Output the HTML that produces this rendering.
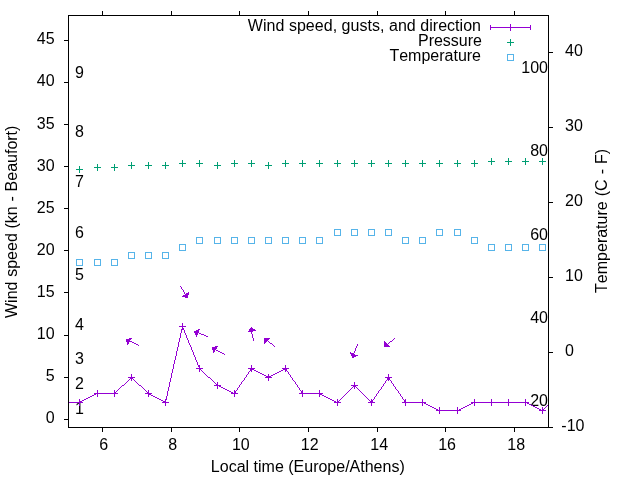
<!DOCTYPE html>
<html><head><meta charset="utf-8"><title>Wind plot</title>
<style>
html,body{margin:0;padding:0;background:#fff;}
body{width:640px;height:480px;overflow:hidden;}
svg{display:block;will-change:transform;}
text{font-family:"Liberation Sans",sans-serif;font-size:16px;fill:#000;white-space:pre;font-kerning:none;}
</style></head><body>
<svg width="640" height="480" viewBox="0 0 640 480">
<rect x="0" y="0" width="640" height="480" fill="#fff"/>
<g stroke="#000" stroke-width="1" fill="none" shape-rendering="crispEdges">
<path d="M102.5 427.5V432.0M102.5 15.5V11.0"/>
<path d="M171.5 427.5V432.0M171.5 15.5V11.0"/>
<path d="M239.5 427.5V432.0M239.5 15.5V11.0"/>
<path d="M308.5 427.5V432.0M308.5 15.5V11.0"/>
<path d="M377.5 427.5V432.0M377.5 15.5V11.0"/>
<path d="M445.5 427.5V432.0M445.5 15.5V11.0"/>
<path d="M514.5 427.5V432.0M514.5 15.5V11.0"/>
<path d="M68.5 419.5H64.0"/>
<path d="M68.5 377.5H64.0"/>
<path d="M68.5 335.5H64.0"/>
<path d="M68.5 292.5H64.0"/>
<path d="M68.5 250.5H64.0"/>
<path d="M68.5 208.5H64.0"/>
<path d="M68.5 166.5H64.0"/>
<path d="M68.5 124.5H64.0"/>
<path d="M68.5 82.5H64.0"/>
<path d="M68.5 40.5H64.0"/>
<path d="M548.5 427.5H553.0"/>
<path d="M548.5 352.5H553.0"/>
<path d="M548.5 277.5H553.0"/>
<path d="M548.5 202.5H553.0"/>
<path d="M548.5 127.5H553.0"/>
<path d="M548.5 52.5H553.0"/>
</g>
<text x="101.49" y="450" text-anchor="middle" xml:space="preserve"> 6</text>
<text x="170.36" y="450" text-anchor="middle" xml:space="preserve"> 8</text>
<text x="238.63" y="450" text-anchor="middle" xml:space="preserve"> 10</text>
<text x="307.50" y="450" text-anchor="middle" xml:space="preserve"> 12</text>
<text x="376.97" y="450" text-anchor="middle" xml:space="preserve"> 14</text>
<text x="444.84" y="450" text-anchor="middle" xml:space="preserve"> 16</text>
<text x="513.91" y="450" text-anchor="middle" xml:space="preserve"> 18</text>
<text x="54.6" y="422.79" text-anchor="end">0</text>
<text x="54.6" y="380.75" text-anchor="end">5</text>
<text x="54.6" y="338.71" text-anchor="end">10</text>
<text x="54.6" y="296.67" text-anchor="end">15</text>
<text x="54.6" y="254.63" text-anchor="end">20</text>
<text x="54.6" y="212.59" text-anchor="end">25</text>
<text x="54.6" y="170.55" text-anchor="end">30</text>
<text x="54.6" y="128.51" text-anchor="end">35</text>
<text x="54.6" y="86.47" text-anchor="end">40</text>
<text x="54.6" y="44.42" text-anchor="end">45</text>
<text x="561.3000000000001" y="430.70" text-anchor="start" xml:space="preserve">-10</text>
<text x="560.6" y="355.79" text-anchor="start" xml:space="preserve"> 0</text>
<text x="560.6" y="280.88" text-anchor="start" xml:space="preserve"> 10</text>
<text x="560.6" y="205.97" text-anchor="start" xml:space="preserve"> 20</text>
<text x="560.6" y="131.06" text-anchor="start" xml:space="preserve"> 30</text>
<text x="560.6" y="56.15" text-anchor="start" xml:space="preserve"> 40</text>
<text x="75" y="414.38">1</text>
<text x="75" y="389.16">2</text>
<text x="75" y="363.93">3</text>
<text x="75" y="330.30">4</text>
<text x="75" y="279.85">5</text>
<text x="75" y="237.81">6</text>
<text x="75" y="187.36">7</text>
<text x="75" y="136.91">8</text>
<text x="75" y="78.06">9</text>
<text x="548" y="406" text-anchor="end">20</text>
<text x="548" y="323" text-anchor="end">40</text>
<text x="548" y="240" text-anchor="end">60</text>
<text x="548" y="156" text-anchor="end">80</text>
<text x="548" y="73" text-anchor="end">100</text>
<text x="307.8" y="472" text-anchor="middle">Local time (Europe/Athens)</text>
<text transform="translate(17,221.8) rotate(-90)" text-anchor="middle" word-spacing="0.3">Wind speed (kn - Beaufort)</text>
<text transform="translate(606.5,220.9) rotate(-90)" text-anchor="middle" word-spacing="0.6">Temperature (C - F)</text>
<text x="481" y="31" text-anchor="end" textLength="233.2">Wind speed, gusts, and direction</text>
<text x="482" y="46" text-anchor="end">Pressure</text>
<text x="481" y="61" text-anchor="end">Temperature</text>
<path d="M490 27.5H531M490.5 25V30M530.5 25V30" stroke="#9400d3" stroke-width="1" fill="none" shape-rendering="crispEdges"/>
<path d="M507.0 27.5H514.0M510.5 24.0V31.0" stroke="#9400d3" stroke-width="1" fill="none" shape-rendering="crispEdges"/>
<path d="M507.0 42.5H514.0M510.5 39.0V46.0" stroke="#009e73" stroke-width="1" fill="none" shape-rendering="crispEdges"/>
<rect x="507.5" y="54.5" width="6" height="6" stroke="#56b4e9" stroke-width="1" fill="none" shape-rendering="crispEdges"/>
<clipPath id="c"><rect x="68.5" y="15.5" width="480.0" height="412.0"/></clipPath>
<path d="M182 326h1v1h-1zM182 327h1v1h-1zM182 328h2v1h-2zM181 329h1v1h-1zM183 329h1v1h-1zM181 330h1v1h-1zM184 330h1v1h-1zM181 331h1v1h-1zM184 331h1v1h-1zM181 332h1v1h-1zM184 332h1v1h-1zM180 333h1v1h-1zM185 333h1v1h-1zM180 334h1v1h-1zM185 334h1v1h-1zM180 335h1v1h-1zM186 335h1v1h-1zM180 336h1v1h-1zM186 336h1v1h-1zM180 337h1v1h-1zM186 337h1v1h-1zM179 338h1v1h-1zM187 338h1v1h-1zM179 339h1v1h-1zM187 339h1v1h-1zM179 340h1v1h-1zM188 340h1v1h-1zM179 341h1v1h-1zM188 341h1v1h-1zM178 342h1v1h-1zM188 342h1v1h-1zM178 343h1v1h-1zM189 343h1v1h-1zM178 344h1v1h-1zM189 344h1v1h-1zM178 345h1v1h-1zM190 345h1v1h-1zM178 346h1v1h-1zM190 346h1v1h-1zM177 347h1v1h-1zM191 347h1v1h-1zM177 348h1v1h-1zM191 348h1v1h-1zM177 349h1v1h-1zM191 349h1v1h-1zM177 350h1v1h-1zM192 350h1v1h-1zM176 351h1v1h-1zM192 351h1v1h-1zM176 352h1v1h-1zM193 352h1v1h-1zM176 353h1v1h-1zM193 353h1v1h-1zM176 354h1v1h-1zM193 354h1v1h-1zM176 355h1v1h-1zM194 355h1v1h-1zM175 356h1v1h-1zM194 356h1v1h-1zM175 357h1v1h-1zM195 357h1v1h-1zM175 358h1v1h-1zM195 358h1v1h-1zM175 359h1v1h-1zM195 359h1v1h-1zM174 360h1v1h-1zM196 360h1v1h-1zM174 361h1v1h-1zM196 361h1v1h-1zM174 362h1v1h-1zM197 362h1v1h-1zM174 363h1v1h-1zM197 363h1v1h-1zM173 364h1v1h-1zM197 364h1v1h-1zM173 365h1v1h-1zM198 365h1v1h-1zM173 366h1v1h-1zM198 366h1v1h-1zM173 367h1v1h-1zM199 367h1v1h-1zM173 368h1v1h-1zM199 368h1v1h-1zM251 368h1v1h-1zM285 368h1v1h-1zM172 369h1v1h-1zM200 369h1v1h-1zM250 369h1v1h-1zM252 369h2v1h-2zM283 369h2v1h-2zM286 369h1v1h-1zM172 370h1v1h-1zM201 370h1v1h-1zM250 370h1v1h-1zM254 370h2v1h-2zM281 370h2v1h-2zM286 370h1v1h-1zM172 371h1v1h-1zM202 371h1v1h-1zM249 371h1v1h-1zM256 371h2v1h-2zM279 371h2v1h-2zM287 371h1v1h-1zM172 372h1v1h-1zM203 372h1v1h-1zM248 372h1v1h-1zM258 372h2v1h-2zM277 372h2v1h-2zM288 372h1v1h-1zM171 373h1v1h-1zM204 373h1v1h-1zM248 373h1v1h-1zM260 373h2v1h-2zM275 373h2v1h-2zM288 373h1v1h-1zM171 374h1v1h-1zM205 374h1v1h-1zM247 374h1v1h-1zM262 374h2v1h-2zM273 374h2v1h-2zM289 374h1v1h-1zM171 375h1v1h-1zM206 375h1v1h-1zM246 375h1v1h-1zM264 375h2v1h-2zM271 375h2v1h-2zM290 375h1v1h-1zM171 376h1v1h-1zM207 376h1v1h-1zM246 376h1v1h-1zM266 376h2v1h-2zM269 376h2v1h-2zM290 376h1v1h-1zM131 377h1v1h-1zM171 377h1v1h-1zM208 377h2v1h-2zM245 377h1v1h-1zM268 377h1v1h-1zM291 377h1v1h-1zM388 377h1v1h-1zM130 378h1v1h-1zM132 378h1v1h-1zM170 378h1v1h-1zM210 378h1v1h-1zM244 378h1v1h-1zM292 378h1v1h-1zM387 378h1v1h-1zM389 378h1v1h-1zM129 379h1v1h-1zM133 379h1v1h-1zM170 379h1v1h-1zM211 379h1v1h-1zM244 379h1v1h-1zM292 379h1v1h-1zM387 379h1v1h-1zM389 379h1v1h-1zM128 380h1v1h-1zM134 380h1v1h-1zM170 380h1v1h-1zM212 380h1v1h-1zM243 380h1v1h-1zM293 380h1v1h-1zM386 380h1v1h-1zM390 380h1v1h-1zM127 381h1v1h-1zM135 381h1v1h-1zM170 381h1v1h-1zM213 381h1v1h-1zM242 381h1v1h-1zM294 381h1v1h-1zM385 381h1v1h-1zM391 381h1v1h-1zM126 382h1v1h-1zM136 382h1v1h-1zM169 382h1v1h-1zM214 382h1v1h-1zM241 382h1v1h-1zM295 382h1v1h-1zM385 382h1v1h-1zM391 382h1v1h-1zM125 383h1v1h-1zM137 383h1v1h-1zM169 383h1v1h-1zM215 383h1v1h-1zM241 383h1v1h-1zM295 383h1v1h-1zM384 383h1v1h-1zM392 383h1v1h-1zM124 384h1v1h-1zM138 384h1v1h-1zM169 384h1v1h-1zM216 384h1v1h-1zM240 384h1v1h-1zM296 384h1v1h-1zM383 384h1v1h-1zM393 384h1v1h-1zM122 385h2v1h-2zM139 385h2v1h-2zM169 385h1v1h-1zM217 385h2v1h-2zM239 385h1v1h-1zM297 385h1v1h-1zM354 385h1v1h-1zM383 385h1v1h-1zM393 385h1v1h-1zM121 386h1v1h-1zM141 386h1v1h-1zM169 386h1v1h-1zM219 386h2v1h-2zM239 386h1v1h-1zM297 386h1v1h-1zM353 386h1v1h-1zM355 386h1v1h-1zM382 386h1v1h-1zM394 386h1v1h-1zM120 387h1v1h-1zM142 387h1v1h-1zM168 387h1v1h-1zM221 387h2v1h-2zM238 387h1v1h-1zM298 387h1v1h-1zM352 387h1v1h-1zM356 387h1v1h-1zM381 387h1v1h-1zM395 387h1v1h-1zM119 388h1v1h-1zM143 388h1v1h-1zM168 388h1v1h-1zM223 388h2v1h-2zM237 388h1v1h-1zM299 388h1v1h-1zM351 388h1v1h-1zM357 388h1v1h-1zM381 388h1v1h-1zM395 388h1v1h-1zM118 389h1v1h-1zM144 389h1v1h-1zM168 389h1v1h-1zM225 389h2v1h-2zM237 389h1v1h-1zM299 389h1v1h-1zM350 389h1v1h-1zM358 389h1v1h-1zM380 389h1v1h-1zM396 389h1v1h-1zM117 390h1v1h-1zM145 390h1v1h-1zM168 390h1v1h-1zM227 390h2v1h-2zM236 390h1v1h-1zM300 390h1v1h-1zM349 390h1v1h-1zM359 390h1v1h-1zM379 390h1v1h-1zM397 390h1v1h-1zM116 391h1v1h-1zM146 391h1v1h-1zM167 391h1v1h-1zM229 391h2v1h-2zM235 391h1v1h-1zM301 391h1v1h-1zM348 391h1v1h-1zM360 391h1v1h-1zM378 391h1v1h-1zM398 391h1v1h-1zM115 392h1v1h-1zM147 392h1v1h-1zM167 392h1v1h-1zM231 392h2v1h-2zM235 392h1v1h-1zM301 392h1v1h-1zM347 392h1v1h-1zM361 392h1v1h-1zM378 392h1v1h-1zM398 392h1v1h-1zM96 393h19v1h-19zM148 393h1v1h-1zM167 393h1v1h-1zM233 393h2v1h-2zM302 393h18v1h-18zM346 393h1v1h-1zM362 393h1v1h-1zM377 393h1v1h-1zM399 393h1v1h-1zM94 394h2v1h-2zM149 394h2v1h-2zM167 394h1v1h-1zM320 394h2v1h-2zM345 394h1v1h-1zM363 394h1v1h-1zM376 394h1v1h-1zM400 394h1v1h-1zM92 395h2v1h-2zM151 395h2v1h-2zM167 395h1v1h-1zM322 395h2v1h-2zM344 395h1v1h-1zM364 395h1v1h-1zM376 395h1v1h-1zM400 395h1v1h-1zM90 396h2v1h-2zM153 396h2v1h-2zM166 396h1v1h-1zM324 396h2v1h-2zM343 396h1v1h-1zM365 396h1v1h-1zM375 396h1v1h-1zM401 396h1v1h-1zM88 397h2v1h-2zM155 397h2v1h-2zM166 397h1v1h-1zM326 397h2v1h-2zM342 397h1v1h-1zM366 397h1v1h-1zM374 397h1v1h-1zM402 397h1v1h-1zM86 398h2v1h-2zM157 398h2v1h-2zM166 398h1v1h-1zM328 398h2v1h-2zM341 398h1v1h-1zM367 398h1v1h-1zM374 398h1v1h-1zM402 398h1v1h-1zM84 399h2v1h-2zM159 399h2v1h-2zM166 399h1v1h-1zM330 399h2v1h-2zM340 399h1v1h-1zM368 399h1v1h-1zM373 399h1v1h-1zM403 399h1v1h-1zM82 400h2v1h-2zM161 400h2v1h-2zM165 400h1v1h-1zM332 400h2v1h-2zM339 400h1v1h-1zM369 400h1v1h-1zM372 400h1v1h-1zM404 400h1v1h-1zM80 401h2v1h-2zM163 401h3v1h-3zM334 401h2v1h-2zM338 401h1v1h-1zM370 401h1v1h-1zM372 401h1v1h-1zM404 401h1v1h-1zM68 402h12v1h-12zM165 402h1v1h-1zM336 402h2v1h-2zM371 402h1v1h-1zM405 402h19v1h-19zM473 402h54v1h-54zM424 403h2v1h-2zM471 403h2v1h-2zM527 403h2v1h-2zM426 404h2v1h-2zM469 404h2v1h-2zM529 404h2v1h-2zM548 404h1v1h-1zM428 405h2v1h-2zM467 405h2v1h-2zM531 405h2v1h-2zM547 405h1v1h-1zM430 406h2v1h-2zM465 406h2v1h-2zM533 406h2v1h-2zM546 406h1v1h-1zM432 407h2v1h-2zM463 407h2v1h-2zM535 407h2v1h-2zM545 407h1v1h-1zM434 408h2v1h-2zM461 408h2v1h-2zM537 408h2v1h-2zM544 408h1v1h-1zM436 409h2v1h-2zM459 409h2v1h-2zM539 409h2v1h-2zM543 409h1v1h-1zM438 410h21v1h-21zM541 410h2v1h-2z" fill="#9400d3" shape-rendering="crispEdges"/>
<path d="M76.0 402.5H83.0M79.5 399.0V406.0" stroke="#9400d3" stroke-width="1" fill="none" shape-rendering="crispEdges"/>
<path d="M94.0 393.5H101.0M97.5 390.0V397.0" stroke="#9400d3" stroke-width="1" fill="none" shape-rendering="crispEdges"/>
<path d="M111.0 393.5H118.0M114.5 390.0V397.0" stroke="#9400d3" stroke-width="1" fill="none" shape-rendering="crispEdges"/>
<path d="M128.0 377.5H135.0M131.5 374.0V381.0" stroke="#9400d3" stroke-width="1" fill="none" shape-rendering="crispEdges"/>
<path d="M145.0 393.5H152.0M148.5 390.0V397.0" stroke="#9400d3" stroke-width="1" fill="none" shape-rendering="crispEdges"/>
<path d="M162.0 402.5H169.0M165.5 399.0V406.0" stroke="#9400d3" stroke-width="1" fill="none" shape-rendering="crispEdges"/>
<path d="M179.0 326.5H186.0M182.5 323.0V330.0" stroke="#9400d3" stroke-width="1" fill="none" shape-rendering="crispEdges"/>
<path d="M196.0 368.5H203.0M199.5 365.0V372.0" stroke="#9400d3" stroke-width="1" fill="none" shape-rendering="crispEdges"/>
<path d="M214.0 385.5H221.0M217.5 382.0V389.0" stroke="#9400d3" stroke-width="1" fill="none" shape-rendering="crispEdges"/>
<path d="M231.0 393.5H238.0M234.5 390.0V397.0" stroke="#9400d3" stroke-width="1" fill="none" shape-rendering="crispEdges"/>
<path d="M248.0 368.5H255.0M251.5 365.0V372.0" stroke="#9400d3" stroke-width="1" fill="none" shape-rendering="crispEdges"/>
<path d="M265.0 377.5H272.0M268.5 374.0V381.0" stroke="#9400d3" stroke-width="1" fill="none" shape-rendering="crispEdges"/>
<path d="M282.0 368.5H289.0M285.5 365.0V372.0" stroke="#9400d3" stroke-width="1" fill="none" shape-rendering="crispEdges"/>
<path d="M299.0 393.5H306.0M302.5 390.0V397.0" stroke="#9400d3" stroke-width="1" fill="none" shape-rendering="crispEdges"/>
<path d="M316.0 393.5H323.0M319.5 390.0V397.0" stroke="#9400d3" stroke-width="1" fill="none" shape-rendering="crispEdges"/>
<path d="M334.0 402.5H341.0M337.5 399.0V406.0" stroke="#9400d3" stroke-width="1" fill="none" shape-rendering="crispEdges"/>
<path d="M351.0 385.5H358.0M354.5 382.0V389.0" stroke="#9400d3" stroke-width="1" fill="none" shape-rendering="crispEdges"/>
<path d="M368.0 402.5H375.0M371.5 399.0V406.0" stroke="#9400d3" stroke-width="1" fill="none" shape-rendering="crispEdges"/>
<path d="M385.0 377.5H392.0M388.5 374.0V381.0" stroke="#9400d3" stroke-width="1" fill="none" shape-rendering="crispEdges"/>
<path d="M402.0 402.5H409.0M405.5 399.0V406.0" stroke="#9400d3" stroke-width="1" fill="none" shape-rendering="crispEdges"/>
<path d="M419.0 402.5H426.0M422.5 399.0V406.0" stroke="#9400d3" stroke-width="1" fill="none" shape-rendering="crispEdges"/>
<path d="M436.0 410.5H443.0M439.5 407.0V414.0" stroke="#9400d3" stroke-width="1" fill="none" shape-rendering="crispEdges"/>
<path d="M454.0 410.5H461.0M457.5 407.0V414.0" stroke="#9400d3" stroke-width="1" fill="none" shape-rendering="crispEdges"/>
<path d="M471.0 402.5H478.0M474.5 399.0V406.0" stroke="#9400d3" stroke-width="1" fill="none" shape-rendering="crispEdges"/>
<path d="M488.0 402.5H495.0M491.5 399.0V406.0" stroke="#9400d3" stroke-width="1" fill="none" shape-rendering="crispEdges"/>
<path d="M505.0 402.5H512.0M508.5 399.0V406.0" stroke="#9400d3" stroke-width="1" fill="none" shape-rendering="crispEdges"/>
<path d="M522.0 402.5H529.0M525.5 399.0V406.0" stroke="#9400d3" stroke-width="1" fill="none" shape-rendering="crispEdges"/>
<path d="M539.0 410.5H546.0M542.5 407.0V414.0" stroke="#9400d3" stroke-width="1" fill="none" shape-rendering="crispEdges"/>
<path d="M76.0 169.5H83.0M79.5 166.0V173.0" stroke="#009e73" stroke-width="1" fill="none" shape-rendering="crispEdges"/>
<path d="M94.0 167.5H101.0M97.5 164.0V171.0" stroke="#009e73" stroke-width="1" fill="none" shape-rendering="crispEdges"/>
<path d="M111.0 167.5H118.0M114.5 164.0V171.0" stroke="#009e73" stroke-width="1" fill="none" shape-rendering="crispEdges"/>
<path d="M128.0 165.5H135.0M131.5 162.0V169.0" stroke="#009e73" stroke-width="1" fill="none" shape-rendering="crispEdges"/>
<path d="M145.0 165.5H152.0M148.5 162.0V169.0" stroke="#009e73" stroke-width="1" fill="none" shape-rendering="crispEdges"/>
<path d="M162.0 165.5H169.0M165.5 162.0V169.0" stroke="#009e73" stroke-width="1" fill="none" shape-rendering="crispEdges"/>
<path d="M179.0 163.5H186.0M182.5 160.0V167.0" stroke="#009e73" stroke-width="1" fill="none" shape-rendering="crispEdges"/>
<path d="M196.0 163.5H203.0M199.5 160.0V167.0" stroke="#009e73" stroke-width="1" fill="none" shape-rendering="crispEdges"/>
<path d="M214.0 165.5H221.0M217.5 162.0V169.0" stroke="#009e73" stroke-width="1" fill="none" shape-rendering="crispEdges"/>
<path d="M231.0 163.5H238.0M234.5 160.0V167.0" stroke="#009e73" stroke-width="1" fill="none" shape-rendering="crispEdges"/>
<path d="M248.0 163.5H255.0M251.5 160.0V167.0" stroke="#009e73" stroke-width="1" fill="none" shape-rendering="crispEdges"/>
<path d="M265.0 165.5H272.0M268.5 162.0V169.0" stroke="#009e73" stroke-width="1" fill="none" shape-rendering="crispEdges"/>
<path d="M282.0 163.5H289.0M285.5 160.0V167.0" stroke="#009e73" stroke-width="1" fill="none" shape-rendering="crispEdges"/>
<path d="M299.0 163.5H306.0M302.5 160.0V167.0" stroke="#009e73" stroke-width="1" fill="none" shape-rendering="crispEdges"/>
<path d="M316.0 163.5H323.0M319.5 160.0V167.0" stroke="#009e73" stroke-width="1" fill="none" shape-rendering="crispEdges"/>
<path d="M334.0 163.5H341.0M337.5 160.0V167.0" stroke="#009e73" stroke-width="1" fill="none" shape-rendering="crispEdges"/>
<path d="M351.0 163.5H358.0M354.5 160.0V167.0" stroke="#009e73" stroke-width="1" fill="none" shape-rendering="crispEdges"/>
<path d="M368.0 163.5H375.0M371.5 160.0V167.0" stroke="#009e73" stroke-width="1" fill="none" shape-rendering="crispEdges"/>
<path d="M385.0 163.5H392.0M388.5 160.0V167.0" stroke="#009e73" stroke-width="1" fill="none" shape-rendering="crispEdges"/>
<path d="M402.0 163.5H409.0M405.5 160.0V167.0" stroke="#009e73" stroke-width="1" fill="none" shape-rendering="crispEdges"/>
<path d="M419.0 163.5H426.0M422.5 160.0V167.0" stroke="#009e73" stroke-width="1" fill="none" shape-rendering="crispEdges"/>
<path d="M436.0 163.5H443.0M439.5 160.0V167.0" stroke="#009e73" stroke-width="1" fill="none" shape-rendering="crispEdges"/>
<path d="M454.0 163.5H461.0M457.5 160.0V167.0" stroke="#009e73" stroke-width="1" fill="none" shape-rendering="crispEdges"/>
<path d="M471.0 163.5H478.0M474.5 160.0V167.0" stroke="#009e73" stroke-width="1" fill="none" shape-rendering="crispEdges"/>
<path d="M488.0 161.5H495.0M491.5 158.0V165.0" stroke="#009e73" stroke-width="1" fill="none" shape-rendering="crispEdges"/>
<path d="M505.0 161.5H512.0M508.5 158.0V165.0" stroke="#009e73" stroke-width="1" fill="none" shape-rendering="crispEdges"/>
<path d="M522.0 161.5H529.0M525.5 158.0V165.0" stroke="#009e73" stroke-width="1" fill="none" shape-rendering="crispEdges"/>
<path d="M539.0 161.5H546.0M542.5 158.0V165.0" stroke="#009e73" stroke-width="1" fill="none" shape-rendering="crispEdges"/>
<rect x="76.5" y="259.5" width="6" height="6" stroke="#56b4e9" stroke-width="1" fill="none" shape-rendering="crispEdges"/>
<rect x="94.5" y="259.5" width="6" height="6" stroke="#56b4e9" stroke-width="1" fill="none" shape-rendering="crispEdges"/>
<rect x="111.5" y="259.5" width="6" height="6" stroke="#56b4e9" stroke-width="1" fill="none" shape-rendering="crispEdges"/>
<rect x="128.5" y="252.5" width="6" height="6" stroke="#56b4e9" stroke-width="1" fill="none" shape-rendering="crispEdges"/>
<rect x="145.5" y="252.5" width="6" height="6" stroke="#56b4e9" stroke-width="1" fill="none" shape-rendering="crispEdges"/>
<rect x="162.5" y="252.5" width="6" height="6" stroke="#56b4e9" stroke-width="1" fill="none" shape-rendering="crispEdges"/>
<rect x="179.5" y="244.5" width="6" height="6" stroke="#56b4e9" stroke-width="1" fill="none" shape-rendering="crispEdges"/>
<rect x="196.5" y="237.5" width="6" height="6" stroke="#56b4e9" stroke-width="1" fill="none" shape-rendering="crispEdges"/>
<rect x="214.5" y="237.5" width="6" height="6" stroke="#56b4e9" stroke-width="1" fill="none" shape-rendering="crispEdges"/>
<rect x="231.5" y="237.5" width="6" height="6" stroke="#56b4e9" stroke-width="1" fill="none" shape-rendering="crispEdges"/>
<rect x="248.5" y="237.5" width="6" height="6" stroke="#56b4e9" stroke-width="1" fill="none" shape-rendering="crispEdges"/>
<rect x="265.5" y="237.5" width="6" height="6" stroke="#56b4e9" stroke-width="1" fill="none" shape-rendering="crispEdges"/>
<rect x="282.5" y="237.5" width="6" height="6" stroke="#56b4e9" stroke-width="1" fill="none" shape-rendering="crispEdges"/>
<rect x="299.5" y="237.5" width="6" height="6" stroke="#56b4e9" stroke-width="1" fill="none" shape-rendering="crispEdges"/>
<rect x="316.5" y="237.5" width="6" height="6" stroke="#56b4e9" stroke-width="1" fill="none" shape-rendering="crispEdges"/>
<rect x="334.5" y="229.5" width="6" height="6" stroke="#56b4e9" stroke-width="1" fill="none" shape-rendering="crispEdges"/>
<rect x="351.5" y="229.5" width="6" height="6" stroke="#56b4e9" stroke-width="1" fill="none" shape-rendering="crispEdges"/>
<rect x="368.5" y="229.5" width="6" height="6" stroke="#56b4e9" stroke-width="1" fill="none" shape-rendering="crispEdges"/>
<rect x="385.5" y="229.5" width="6" height="6" stroke="#56b4e9" stroke-width="1" fill="none" shape-rendering="crispEdges"/>
<rect x="402.5" y="237.5" width="6" height="6" stroke="#56b4e9" stroke-width="1" fill="none" shape-rendering="crispEdges"/>
<rect x="419.5" y="237.5" width="6" height="6" stroke="#56b4e9" stroke-width="1" fill="none" shape-rendering="crispEdges"/>
<rect x="436.5" y="229.5" width="6" height="6" stroke="#56b4e9" stroke-width="1" fill="none" shape-rendering="crispEdges"/>
<rect x="454.5" y="229.5" width="6" height="6" stroke="#56b4e9" stroke-width="1" fill="none" shape-rendering="crispEdges"/>
<rect x="471.5" y="237.5" width="6" height="6" stroke="#56b4e9" stroke-width="1" fill="none" shape-rendering="crispEdges"/>
<rect x="488.5" y="244.5" width="6" height="6" stroke="#56b4e9" stroke-width="1" fill="none" shape-rendering="crispEdges"/>
<rect x="505.5" y="244.5" width="6" height="6" stroke="#56b4e9" stroke-width="1" fill="none" shape-rendering="crispEdges"/>
<rect x="522.5" y="244.5" width="6" height="6" stroke="#56b4e9" stroke-width="1" fill="none" shape-rendering="crispEdges"/>
<rect x="539.5" y="244.5" width="6" height="6" stroke="#56b4e9" stroke-width="1" fill="none" shape-rendering="crispEdges"/>
<path d="M129 338h3v1h-3zM126 339h5v1h-5zM126 340h4v1h-4zM126 341h6v1h-6zM127 342h2v1h-2zM132 342h2v1h-2zM127 343h2v1h-2zM134 343h2v1h-2zM127 344h1v1h-1zM136 344h2v1h-2zM138 345h1v1h-1zM180 286h1v1h-1zM181 287h1v1h-1zM181 288h1v1h-1zM182 289h1v1h-1zM183 290h1v1h-1zM183 291h1v1h-1zM184 292h1v1h-1zM188 292h1v1h-1zM184 293h1v1h-1zM186 293h3v1h-3zM185 294h4v1h-4zM183 295h5v1h-5zM182 296h6v1h-6zM185 297h3v1h-3zM198 329h2v1h-2zM196 330h3v1h-3zM194 331h5v1h-5zM194 332h5v1h-5zM195 333h3v1h-3zM199 333h2v1h-2zM195 334h3v1h-3zM201 334h3v1h-3zM196 335h1v1h-1zM204 335h2v1h-2zM196 336h1v1h-1zM206 336h2v1h-2zM215 346h3v1h-3zM212 347h5v1h-5zM212 348h5v1h-5zM212 349h4v1h-4zM213 350h2v1h-2zM216 350h2v1h-2zM213 351h2v1h-2zM218 351h2v1h-2zM213 352h1v1h-1zM220 352h2v1h-2zM222 353h2v1h-2zM224 354h1v1h-1zM251 327h1v1h-1zM250 328h3v1h-3zM249 329h6v1h-6zM249 330h7v1h-7zM248 331h5v1h-5zM251 332h1v1h-1zM251 333h1v1h-1zM252 334h1v1h-1zM252 335h1v1h-1zM252 336h1v1h-1zM252 337h1v1h-1zM253 338h1v1h-1zM253 339h1v1h-1zM253 340h1v1h-1zM264 338h6v1h-6zM264 339h5v1h-5zM264 340h4v1h-4zM264 341h3v1h-3zM268 341h1v1h-1zM264 342h2v1h-2zM269 342h1v1h-1zM264 343h1v1h-1zM270 343h2v1h-2zM272 344h1v1h-1zM273 345h1v1h-1zM274 346h1v1h-1zM357 344h1v1h-1zM357 345h1v1h-1zM356 346h1v1h-1zM356 347h1v1h-1zM355 348h1v1h-1zM355 349h1v1h-1zM355 350h1v1h-1zM354 351h1v1h-1zM350 352h1v1h-1zM354 352h1v1h-1zM350 353h4v1h-4zM351 354h4v1h-4zM351 355h7v1h-7zM352 356h4v1h-4zM352 357h2v1h-2zM394 338h1v1h-1zM393 339h1v1h-1zM392 340h1v1h-1zM384 341h1v1h-1zM390 341h2v1h-2zM384 342h2v1h-2zM389 342h1v1h-1zM384 343h3v1h-3zM388 343h1v1h-1zM384 344h4v1h-4zM384 345h5v1h-5zM384 346h6v1h-6z" fill="#9400d3" shape-rendering="crispEdges"/>
<rect x="68.5" y="15.5" width="480.0" height="412.0" stroke="#000" stroke-width="1" fill="none" shape-rendering="crispEdges"/>
</svg></body></html>
